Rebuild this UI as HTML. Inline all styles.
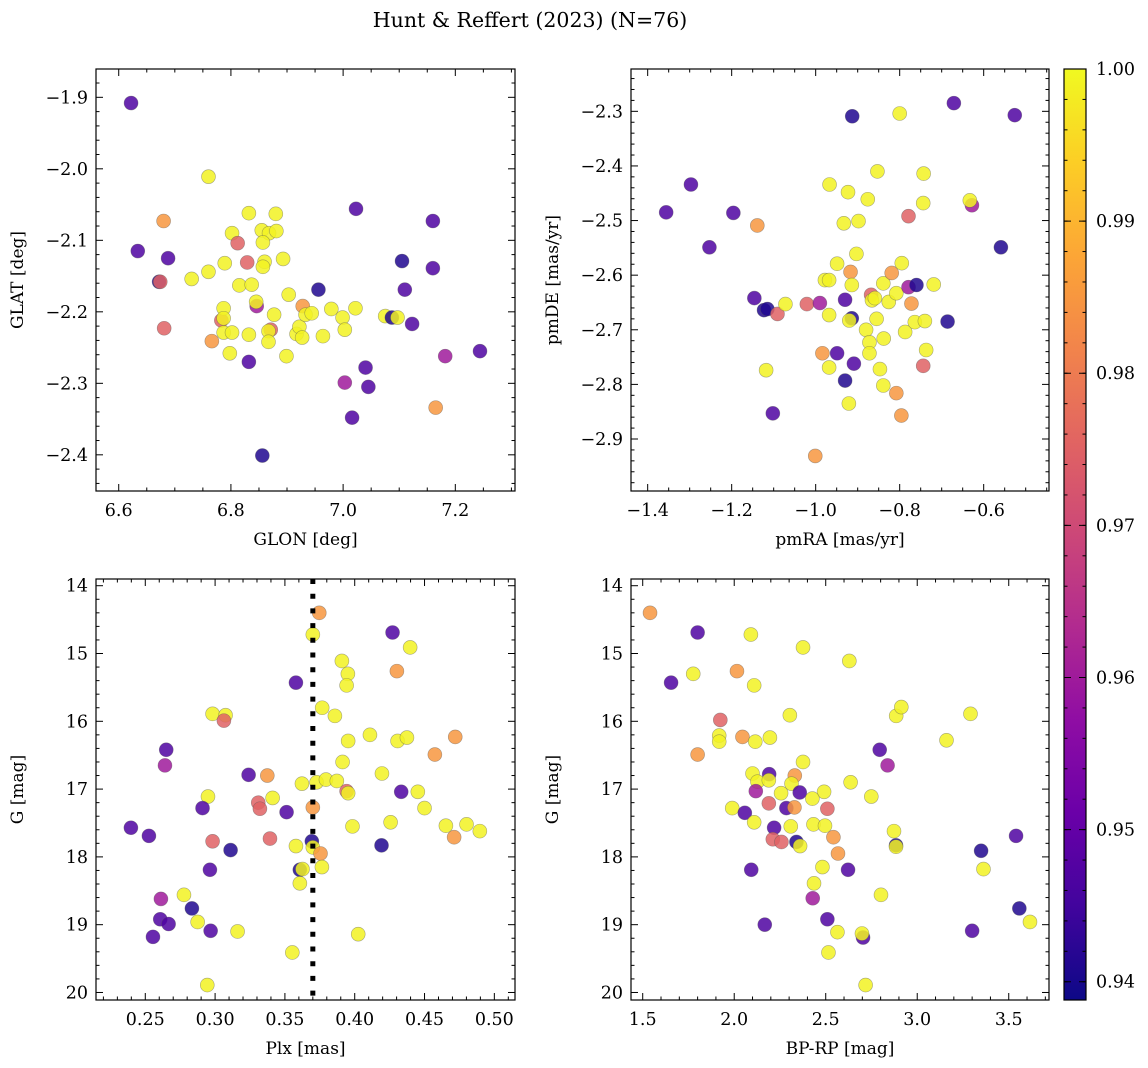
<!DOCTYPE html>
<html><head><meta charset="utf-8"><title>Hunt & Reffert (2023)</title>
<style>
html,body{margin:0;padding:0;background:#fff;}
svg{display:block;font-family:"DejaVu Serif","Liberation Serif",serif;}
</style></head>
<body>
<svg id="fig" width="1148" height="1068" viewBox="0 0 1148 1068" xmlns="http://www.w3.org/2000/svg">
<defs>
<linearGradient id="plasma" x1="0" y1="1" x2="0" y2="0">
<stop offset="0" stop-color="#0d0887"/><stop offset="0.1" stop-color="#41049d"/>
<stop offset="0.2" stop-color="#6a00a8"/><stop offset="0.3" stop-color="#8f0da4"/>
<stop offset="0.4" stop-color="#b12a90"/><stop offset="0.5" stop-color="#cc4778"/>
<stop offset="0.6" stop-color="#e16462"/><stop offset="0.7" stop-color="#f2844b"/>
<stop offset="0.8" stop-color="#fca636"/><stop offset="0.9" stop-color="#fcce25"/>
<stop offset="1" stop-color="#f0f921"/>
</linearGradient>
</defs>
<text x="530" y="27" text-anchor="middle" font-size="20.5">Hunt &amp; Reffert (2023) (N=76)</text>
</svg>
<script>
// ---- data: top-left (GLON vs GLAT)
const glon = [6.622,6.634,6.688,6.672,6.674,6.68,6.681,6.76,6.730,6.760,6.789,6.766,6.783,6.787,6.787,6.787,6.802,6.798,6.802,6.812,6.815,6.832,6.829,6.837,6.832,6.832,6.846,6.845,6.855,6.868,6.881,6.880,6.857,6.86,6.857,6.856,6.893,6.877,6.871,6.867,6.867,6.903,6.899,6.917,6.922,6.927,6.928,6.933,6.944,6.956,6.964,6.979,6.999,7.003,7.003,7.016,7.022,7.023,7.040,7.045,7.075,7.087,7.097,7.105,7.110,7.123,7.160,7.160,7.165,7.182,7.244];
const glat = [-1.908,-2.115,-2.125,-2.158,-2.158,-2.073,-2.223,-2.011,-2.154,-2.144,-2.132,-2.241,-2.212,-2.195,-2.209,-2.229,-2.229,-2.258,-2.09,-2.104,-2.163,-2.062,-2.131,-2.162,-2.232,-2.27,-2.192,-2.186,-2.086,-2.09,-2.087,-2.063,-2.103,-2.13,-2.137,-2.401,-2.126,-2.204,-2.225,-2.227,-2.242,-2.176,-2.262,-2.231,-2.221,-2.236,-2.192,-2.204,-2.202,-2.169,-2.234,-2.196,-2.208,-2.225,-2.299,-2.348,-2.195,-2.056,-2.278,-2.305,-2.206,-2.208,-2.208,-2.129,-2.169,-2.217,-2.073,-2.139,-2.334,-2.262,-2.255];
const probTL = [0.947,0.947,0.947,0.941,0.975,0.985,0.975,0.999,0.999,0.999,0.999,0.985,0.975,0.999,0.999,0.999,0.999,0.999,0.999,0.975,0.999,0.999,0.975,0.999,0.999,0.947,0.96,0.999,0.999,0.999,0.999,0.999,0.999,0.999,0.999,0.941,0.999,0.999,0.975,0.999,0.999,0.999,0.999,0.999,0.999,0.999,0.985,0.999,0.999,0.941,0.999,0.999,0.999,0.999,0.96,0.947,0.999,0.947,0.947,0.947,0.999,0.941,0.999,0.941,0.947,0.947,0.947,0.947,0.985,0.96,0.947];
// ---- data: top-right (pmRA vs pmDE)
const pmra = [-1.356,-1.297,-1.253,-1.196,-1.139,-1.146,-1.123,-1.115,-1.091,-1.072,-1.118,-1.102,-1.021,-0.990,-1.001,-0.984,-0.968,-0.968,-0.978,-0.968,-0.967,-0.949,-0.949,-0.930,-0.930,-0.933,-0.923,-0.917,-0.914,-0.913,-0.914,-0.920,-0.921,-0.909,-0.903,-0.898,-0.880,-0.876,-0.872,-0.872,-0.868,-0.866,-0.859,-0.855,-0.853,-0.847,-0.839,-0.839,-0.838,-0.826,-0.819,-0.808,-0.808,-0.800,-0.796,-0.795,-0.787,-0.779,-0.779,-0.772,-0.760,-0.764,-0.743,-0.744,-0.744,-0.740,-0.737,-0.719,-0.686,-0.671,-0.628,-0.633,-0.559,-0.526];
const pmde = [-2.485,-2.434,-2.549,-2.486,-2.509,-2.642,-2.664,-2.662,-2.671,-2.653,-2.774,-2.853,-2.653,-2.651,-2.931,-2.743,-2.769,-2.673,-2.609,-2.609,-2.434,-2.579,-2.743,-2.645,-2.793,-2.505,-2.448,-2.594,-2.618,-2.309,-2.679,-2.683,-2.835,-2.762,-2.561,-2.501,-2.700,-2.461,-2.723,-2.743,-2.636,-2.646,-2.642,-2.680,-2.410,-2.772,-2.615,-2.802,-2.716,-2.649,-2.596,-2.816,-2.633,-2.304,-2.857,-2.578,-2.704,-2.492,-2.622,-2.652,-2.618,-2.686,-2.414,-2.468,-2.766,-2.684,-2.737,-2.617,-2.685,-2.285,-2.472,-2.463,-2.549,-2.307];
const probTR = [0.947,0.947,0.947,0.947,0.985,0.947,0.941,0.941,0.975,0.999,0.999,0.947,0.975,0.96,0.985,0.985,0.999,0.999,0.999,0.999,0.999,0.999,0.947,0.947,0.941,0.999,0.999,0.985,0.999,0.941,0.941,0.999,0.999,0.947,0.999,0.999,0.999,0.999,0.999,0.999,0.975,0.999,0.999,0.999,0.999,0.999,0.999,0.999,0.999,0.999,0.985,0.985,0.999,0.999,0.985,0.999,0.999,0.975,0.96,0.985,0.941,0.999,0.999,0.999,0.975,0.999,0.999,0.999,0.941,0.947,0.96,0.999,0.941,0.947];
// ---- data: bottom-left (Plx vs G)
const plx = [0.3746,0.3700,0.4271,0.4397,0.3908,0.4302,0.3951,0.3579,0.3942,0.3767,0.3858,0.2982,0.3075,0.3063,0.4109,0.3953,0.4307,0.4374,0.4720,0.4574,0.2650,0.2641,0.3913,0.3240,0.3374,0.4195,0.3622,0.3727,0.3794,0.3872,0.3942,0.3953,0.4333,0.4452,0.2949,0.3412,0.3309,0.3321,0.2910,0.3512,0.3700,0.4500,0.2397,0.2526,0.2982,0.3111,0.3393,0.3693,0.3579,0.3700,0.3755,0.3984,0.4257,0.4192,0.4653,0.4801,0.4896,0.4712,0.2963,0.3607,0.3626,0.3765,0.3607,0.2612,0.2777,0.2834,0.2607,0.2667,0.2875,0.2555,0.2968,0.3161,0.4025,0.3553,0.2944];
const gmagBL = [14.40,14.72,14.69,14.91,15.11,15.26,15.30,15.43,15.47,15.80,15.92,15.89,15.91,15.99,16.20,16.29,16.29,16.24,16.23,16.49,16.42,16.65,16.60,16.79,16.80,16.77,16.92,16.90,16.86,16.88,17.03,17.06,17.04,17.04,17.11,17.13,17.20,17.29,17.28,17.34,17.27,17.28,17.57,17.69,17.77,17.90,17.73,17.77,17.84,17.86,17.95,17.55,17.49,17.83,17.54,17.52,17.62,17.71,18.19,18.19,18.18,18.15,18.39,18.62,18.56,18.76,18.92,18.99,18.96,19.18,19.09,19.10,19.14,19.41,19.89];
const probBL = [0.985,0.999,0.947,0.999,0.999,0.985,0.999,0.947,0.999,0.999,0.999,0.999,0.999,0.975,0.999,0.999,0.999,0.999,0.985,0.985,0.947,0.96,0.999,0.947,0.985,0.999,0.999,0.999,0.999,0.999,0.975,0.999,0.947,0.999,0.999,0.999,0.975,0.975,0.947,0.947,0.985,0.999,0.947,0.947,0.975,0.941,0.975,0.941,0.999,0.999,0.985,0.999,0.999,0.941,0.999,0.999,0.999,0.985,0.947,0.941,0.999,0.999,0.999,0.96,0.999,0.941,0.947,0.947,0.999,0.947,0.947,0.999,0.999,0.999,0.999];
const plxCut = 0.37;
// ---- data: bottom-right (BP-RP vs G)
const bprp = [1.540,1.800,2.091,2.376,2.629,1.655,1.776,2.015,2.109,2.304,1.924,2.885,2.913,3.291,1.918,1.918,2.045,2.115,2.195,3.160,1.800,2.376,2.795,2.838,2.100,2.191,2.331,2.127,2.189,2.313,2.636,2.118,2.256,2.358,2.491,2.427,2.749,1.989,2.058,2.189,2.285,2.329,2.509,2.109,2.309,2.433,2.496,2.218,2.542,2.211,2.258,2.340,2.360,2.567,2.873,2.884,2.884,3.540,3.349,3.362,2.093,2.482,2.622,2.436,2.429,2.802,3.558,3.616,2.167,2.509,2.564,2.704,2.698,3.300,2.515,2.718];
const gmagBR = [14.40,14.69,14.72,14.91,15.11,15.43,15.30,15.26,15.47,15.91,15.98,15.92,15.79,15.89,16.21,16.30,16.23,16.30,16.24,16.28,16.49,16.60,16.42,16.65,16.77,16.78,16.80,16.89,16.87,16.92,16.90,17.03,17.06,17.05,17.04,17.14,17.11,17.28,17.35,17.21,17.28,17.27,17.29,17.49,17.55,17.52,17.54,17.57,17.71,17.74,17.78,17.78,17.84,17.95,17.62,17.83,17.85,17.69,17.91,18.18,18.19,18.15,18.19,18.39,18.61,18.56,18.76,18.96,19.00,18.92,19.11,19.19,19.13,19.09,19.41,19.89];
const probBR = [0.985,0.947,0.999,0.999,0.999,0.947,0.999,0.985,0.999,0.999,0.975,0.999,0.999,0.999,0.999,0.999,0.985,0.999,0.999,0.999,0.985,0.999,0.947,0.96,0.999,0.947,0.985,0.999,0.999,0.999,0.999,0.96,0.999,0.947,0.999,0.999,0.999,0.999,0.947,0.975,0.947,0.985,0.975,0.999,0.999,0.999,0.999,0.947,0.985,0.975,0.975,0.941,0.999,0.985,0.999,0.941,0.999,0.947,0.941,0.999,0.947,0.999,0.947,0.999,0.96,0.999,0.941,0.999,0.947,0.947,0.999,0.947,0.999,0.947,0.999,0.999];
// colorbar
const cbTicks = [0.94,0.95,0.96,0.97,0.98,0.99,1.00];

const NS = "http://www.w3.org/2000/svg";
const svg = document.getElementById('fig');
const VMIN = 0.9388, VMAX = 1.0;
const stops = ["#0d0887","#41049d","#6a00a8","#8f0da4","#b12a90","#cc4778","#e16462","#f2844b","#fca636","#fcce25","#f0f921"];
function hex(h){return [1,3,5].map(i=>parseInt(h.substr(i,2),16));}
function plasma(v){
  let t=(v-VMIN)/(VMAX-VMIN); t=Math.max(0,Math.min(1,t));
  const f=t*10, i=Math.min(9,Math.floor(f)), r=f-i;
  const a=hex(stops[i]), b=hex(stops[i+1]);
  return 'rgb('+a.map((c,k)=>Math.round(c+(b[k]-c)*r)).join(',')+')';
}
function el(tag, attrs, parent){
  const e=document.createElementNS(NS,tag);
  for(const k in attrs) e.setAttribute(k,attrs[k]);
  (parent||svg).appendChild(e); return e;
}
function fmtNum(v,d){const s=v.toFixed(d);return s.replace('-','\u2212');}

function panel(c){
  const g=el('g',{});
  
  
  const sx=v=>c.x0+(v-c.xa)/(c.xb-c.xa)*(c.x1-c.x0);
  const sy=v=>c.y0+(v-c.ya)/(c.yb-c.ya)*(c.y1-c.y0);
  const pg=el('g',{},g);
  
  
  for(let i=0;i<c.xs.length;i++){
    const p=el('circle',{cx:sx(c.xs[i]).toFixed(2),cy:sy(c.ys[i]).toFixed(2),r:7,fill:plasma(c.cs[i]),'fill-opacity':0.85,stroke:'#555','stroke-opacity':0.5,'stroke-width':0.6},pg);
    
    
  }
  if(c.extra) c.extra(g,sx,sy);
  const fr=el('rect',{x:c.x0,y:c.y0,width:c.x1-c.x0,height:c.y1-c.y0,fill:'none',stroke:'#000','stroke-width':1.2},g);
  
  
  const xlo=Math.min(c.xa,c.xb), xhi=Math.max(c.xa,c.xb);
  for(let k=Math.ceil(xlo/c.xminor-1e-6);k*c.xminor<=xhi+1e-9;k++){
    const v=k*c.xminor, x=sx(v);
    const isMaj=Math.abs(Math.round(v/c.xmajor)*c.xmajor-v)<1e-7;
    const L=isMaj?7:3.5;
    el('line',{x1:x,x2:x,y1:c.y1,y2:c.y1-L,stroke:'#000','stroke-width':1},g);
    el('line',{x1:x,x2:x,y1:c.y0,y2:c.y0+L,stroke:'#000','stroke-width':1},g);
    if(isMaj){
      const t=el('text',{x:x,y:c.y1+25,'text-anchor':'middle','font-size':17.5},g);
      t.textContent=fmtNum(v,c.xd);
      
      
    }
  }
  const ylo=Math.min(c.ya,c.yb), yhi=Math.max(c.ya,c.yb);
  for(let k=Math.ceil(ylo/c.yminor-1e-6);k*c.yminor<=yhi+1e-9;k++){
    const v=k*c.yminor, y=sy(v);
    const isMaj=Math.abs(Math.round(v/c.ymajor)*c.ymajor-v)<1e-7;
    const L=isMaj?7:3.5;
    el('line',{x1:c.x0,x2:c.x0+L,y1:y,y2:y,stroke:'#000','stroke-width':1},g);
    el('line',{x1:c.x1,x2:c.x1-L,y1:y,y2:y,stroke:'#000','stroke-width':1},g);
    if(isMaj){
      const t=el('text',{x:c.x0-8,y:y+6,'text-anchor':'end','font-size':17.5},g);
      t.textContent=fmtNum(v,c.yd);
      
      
    }
  }
  const xl=el('text',{x:(c.x0+c.x1)/2,y:c.y1+54,'text-anchor':'middle','font-size':17},g);
  xl.textContent=c.xlabel;
  
  
  const yx=c.ylx, yy=(c.y0+c.y1)/2;
  const yl=el('text',{x:yx,y:yy,'text-anchor':'middle','font-size':17,'dominant-baseline':'central',transform:'rotate(-90 '+yx+' '+yy+')'},g);
  yl.textContent=c.ylabel;
  
  
}

panel({name:'glon-glat-panel',x0:96,x1:515,y0:69,y1:491,xa:6.5595,xb:7.3064,ya:-1.8604,yb:-2.4506,
  xs:glon,ys:glat,cs:probTL,xmajor:0.2,xminor:0.05,xd:1,ymajor:0.1,yminor:0.02,yd:1,xlabel:'GLON [deg]',ylabel:'GLAT [deg]',ylx:18});
panel({name:'pm-panel',x0:631,x1:1049,y0:69,y1:491,xa:-1.4397,xb:-0.4445,ya:-2.2225,yb:-2.9952,
  xs:pmra,ys:pmde,cs:probTR,xmajor:0.2,xminor:0.05,xd:1,ymajor:0.1,yminor:0.02,yd:1,xlabel:'pmRA [mas/yr]',ylabel:'pmDE [mas/yr]',ylx:553});
panel({name:'plx-g-panel',x0:96,x1:515,y0:579,y1:1000,xa:0.2147,xb:0.5148,ya:13.901,yb:20.111,
  xs:plx,ys:gmagBL,cs:probBL,xmajor:0.05,xminor:0.01,xd:2,ymajor:1,yminor:0.2,yd:0,xlabel:'Plx [mas]',ylabel:'G [mag]',ylx:18,
  extra:function(g,sx,sy){
    const l=el('line',{x1:sx(plxCut),x2:sx(plxCut),y1:579,y2:1000,stroke:'#000','stroke-width':5,'stroke-dasharray':'5 9.7'},g);
    
    
  }});
panel({name:'cmd-panel',x0:631,x1:1049,y0:579,y1:1000,xa:1.436,xb:3.720,ya:13.901,yb:20.111,
  xs:bprp,ys:gmagBR,cs:probBR,xmajor:0.5,xminor:0.1,xd:1,ymajor:1,yminor:0.2,yd:0,xlabel:'BP-RP [mag]',ylabel:'G [mag]',ylx:553});

(function(){
  const x0=1064,x1=1086,y0=69,y1=1000;
  const g=el('g',{});
  
  
  el('rect',{x:x0,y:y0,width:x1-x0,height:y1-y0,fill:'url(#plasma)',stroke:'#000','stroke-width':1.2},g);
  const sy=v=>y1-(v-VMIN)/(VMAX-VMIN)*(y1-y0);
  for(let k=Math.ceil(VMIN/0.002-1e-6);k*0.002<=VMAX+1e-9;k++){
    const y=sy(k*0.002);
    el('line',{x1:x1,x2:x1-3.5,y1:y,y2:y,stroke:'#000','stroke-width':1},g);
    el('line',{x1:x0,x2:x0+3.5,y1:y,y2:y,stroke:'#000','stroke-width':1},g);
  }
  cbTicks.forEach(v=>{
    const y=sy(v);
    el('line',{x1:x1,x2:x1-7,y1:y,y2:y,stroke:'#000','stroke-width':1},g);
    el('line',{x1:x0,x2:x0+7,y1:y,y2:y,stroke:'#000','stroke-width':1},g);
    const t=el('text',{x:x1+10,y:y+6,'font-size':17.5},g);
    t.textContent=v.toFixed(2);
    
    
  });
})();
</script>
</body></html>
